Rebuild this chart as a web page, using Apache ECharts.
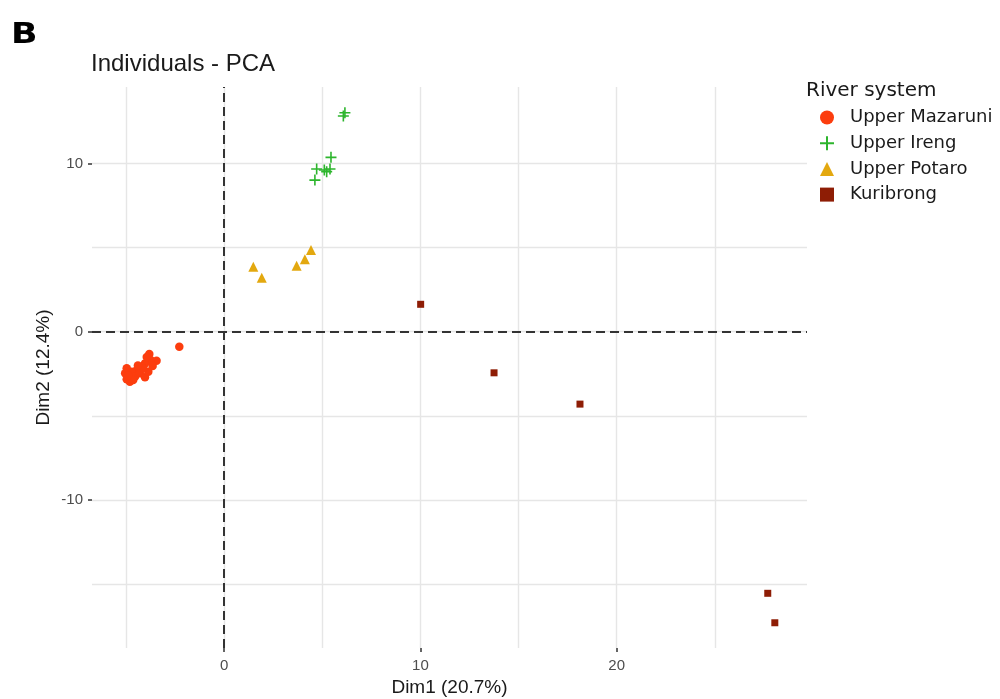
<!DOCTYPE html>
<html>
<head>
<meta charset="utf-8">
<style>
  html, body { margin: 0; padding: 0; background: #ffffff; }
  #chart { width: 1000px; height: 699px; }
</style>
<script src="https://cdn.jsdelivr.net/npm/echarts@6/dist/echarts.min.js"></script>
</head>
<body>
<div id="chart"></div>
<script>
// PCA individual coordinates [Dim1, Dim2] grouped by river system
const upperMazaruni = [
  [-3.82, -1.33], [-3.45, -1.72], [-3.75, -1.68], [-4.04, -1.88], [-4.21, -2.08],
  [-4.46, -2.28], [-4.72, -2.38], [-4.97, -2.17], [-5.05, -2.47], [-4.97, -2.83],
  [-4.81, -2.97], [-4.55, -2.67], [-4.30, -2.47], [-4.04, -2.71], [-3.87, -2.38],
  [-3.65, -2.04], [-4.13, -2.17], [-4.64, -2.87], [-4.90, -2.60], [-4.40, -2.00],
  [-3.95, -1.50], [-2.29, -0.89]
];
const upperIreng = [
  [6.15, 13.01], [6.07, 12.82], [5.44, 10.36], [4.71, 9.67],
  [5.10, 9.61], [5.22, 9.51], [5.39, 9.67], [4.62, 9.01]
];
const upperPotaro = [
  [1.48, 3.86], [1.91, 3.21], [3.69, 3.92], [4.11, 4.30], [4.42, 4.86]
];
const kuribrong = [
  [10.01, 1.63], [13.75, -2.44], [18.13, -4.30], [27.70, -15.54], [28.06, -17.29]
];

// Axis ranges and break positions
const dim1Range = [-6.74, 29.70];
const dim2Range = [-18.79, 14.54];
const dim1Ticks = [0, 10, 20];
const dim2Ticks = [-10, 0, 10];
const dim1MinorBreaks = [-5, 5, 15, 25];
const dim2MinorBreaks = [-15, -5, 5];

const groupNames = ['Upper Mazaruni', 'Upper Ireng', 'Upper Potaro', 'Kuribrong'];
const groupColors = ['#FC3D0E', '#2DB52D', '#E3A80F', '#8E1D05'];

const gridLineStyle = { color: '#E6E6E6', width: 1.4, type: 'solid' };

const chart = echarts.init(document.getElementById('chart'), null, { renderer: 'canvas' });

const tickLabelStyle = {
  color: '#4D4D4D',
  fontFamily: 'Liberation Sans, Arial, sans-serif',
  fontSize: 15
};

chart.setOption({
  animation: false,
  backgroundColor: '#ffffff',
  graphic: [
    {
      // panel tag
      type: 'text',
      left: 11, top: 21,
      scaleX: 1.2,
      style: { text: 'B', font: 'bold 29px DejaVu Sans', fill: '#000000' }
    }
  ],
  title: [
    {
      text: 'Individuals - PCA',
      left: 86, top: 47,
      textStyle: { fontFamily: 'Liberation Sans, Arial, sans-serif', fontWeight: 'normal', fontSize: 24, color: '#1A1A1A' }
    },
    {
      text: 'River system',
      left: 801, top: 76,
      textStyle: { fontFamily: 'DejaVu Sans', fontWeight: 'normal', fontSize: 20, color: '#1A1A1A' }
    }
  ],
  legend: {
    data: groupNames,
    orient: 'vertical',
    left: 819,
    top: 108.5,
    itemWidth: 14,
    itemHeight: 14,
    itemGap: 7.7,
    padding: 0,
    symbolKeepAspect: true,
    textStyle: { fontFamily: 'DejaVu Sans', fontSize: 18, color: '#1A1A1A', padding: [0, 0, 0, 11] },
    selectedMode: false
  },
  grid: { left: 92, right: 193, top: 87, bottom: 51, containLabel: false, outerBoundsMode: 'none' },
  xAxis: {
    type: 'value',
    min: dim1Range[0],
    max: dim1Range[1],
    name: 'Dim1 (20.7%)',
    nameLocation: 'middle',
    nameGap: 30,
    nameMoveOverlap: false,
    nameTextStyle: { fontFamily: 'Liberation Sans, Arial, sans-serif', fontSize: 19, color: '#1A1A1A' },
    axisLine: { show: false, onZero: false },
    axisTick: { show: true, customValues: dim1Ticks, length: 4, lineStyle: { color: '#333333', width: 1.5 } },
    axisLabel: Object.assign({ customValues: dim1Ticks, margin: 10 }, tickLabelStyle),
    splitLine: { show: false }
  },
  yAxis: {
    type: 'value',
    min: dim2Range[0],
    max: dim2Range[1],
    name: 'Dim2 (12.4%)',
    nameLocation: 'middle',
    nameGap: 39,
    nameMoveOverlap: false,
    nameRotate: 90,
    nameTextStyle: { fontFamily: 'Liberation Sans, Arial, sans-serif', fontSize: 19, color: '#1A1A1A' },
    axisLine: { show: false, onZero: false },
    axisTick: { show: true, customValues: dim2Ticks, length: 4, lineStyle: { color: '#333333', width: 1.5 } },
    axisLabel: Object.assign({ customValues: dim2Ticks, margin: 9 }, tickLabelStyle),
    splitLine: { show: false }
  },
  series: [
    {
      // background grid: major and minor breaks
      name: 'grid',
      type: 'scatter',
      data: [],
      z: 0,
      silent: true,
      markLine: {
        z: 0,
        silent: true,
        symbol: ['none', 'none'],
        label: { show: false },
        lineStyle: gridLineStyle,
        emphasis: { disabled: true },
        data: []
          .concat(dim1Ticks.concat(dim1MinorBreaks).map(v => ({ xAxis: v })))
          .concat(dim2Ticks.concat(dim2MinorBreaks).map(v => ({ yAxis: v })))
      }
    },
    {
      // dashed reference lines through the origin
      name: 'origin',
      type: 'scatter',
      data: [],
      z: 1,
      silent: true,
      markLine: {
        z: 1,
        silent: true,
        symbol: ['none', 'none'],
        label: { show: false },
        lineStyle: { color: '#333333', width: 2, type: [9, 5] },
        emphasis: { disabled: true },
        data: [{ xAxis: 0 }, { yAxis: 0 }]
      }
    },
    {
      name: groupNames[0],
      type: 'scatter',
      z: 3,
      data: upperMazaruni,
      symbol: 'circle',
      symbolSize: 8.5,
      itemStyle: { color: groupColors[0], opacity: 1 }
    },
    {
      name: groupNames[1],
      type: 'scatter',
      z: 3,
      data: upperIreng,
      symbol: 'path://M5,0L5,10M0,5L10,5',
      symbolSize: 11,
      symbolKeepAspect: true,
      itemStyle: { color: 'rgba(0,0,0,0)', borderColor: groupColors[1], borderWidth: 1.6, opacity: 1 }
    },
    {
      name: groupNames[2],
      type: 'scatter',
      z: 3,
      data: upperPotaro,
      symbol: 'triangle',
      symbolSize: 10,
      symbolKeepAspect: true,
      itemStyle: { color: groupColors[2], opacity: 1 }
    },
    {
      name: groupNames[3],
      type: 'scatter',
      z: 3,
      data: kuribrong,
      symbol: 'rect',
      symbolSize: 7,
      symbolKeepAspect: true,
      itemStyle: { color: groupColors[3], opacity: 1 }
    }
  ]
});
</script>
</body>
</html>
